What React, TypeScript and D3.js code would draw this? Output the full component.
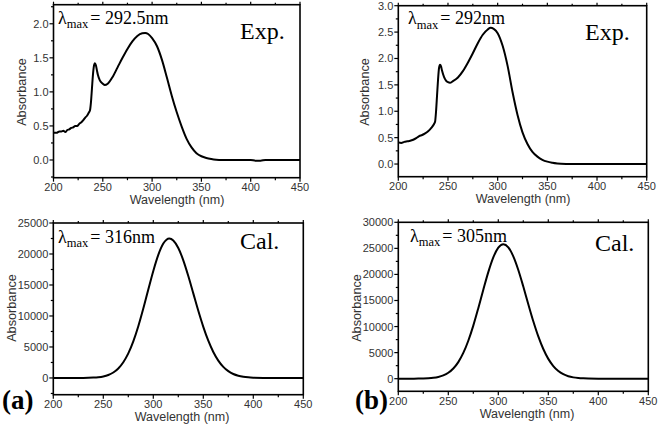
import React from "react";
import * as d3 from "d3";

// ---------- DATA ----------
const expA_x = [200, 203, 206, 208, 210, 212, 214, 216, 218, 220, 222, 224, 226, 228, 230, 232, 234, 236, 237, 238, 239, 240, 241, 242, 243, 244, 245, 247, 250, 252, 255, 260, 265, 270, 275, 280, 285, 290, 293, 296, 300, 305, 310, 315, 320, 325, 330, 335, 340, 345, 350, 355, 360, 365, 370, 400, 405, 410, 415, 450];
const expA_y = [0.40, 0.40, 0.42, 0.42, 0.43, 0.41, 0.44, 0.45, 0.47, 0.48, 0.50, 0.50, 0.53, 0.55, 0.58, 0.62, 0.65, 0.70, 0.73, 0.85, 1.05, 1.25, 1.38, 1.42, 1.39, 1.32, 1.25, 1.17, 1.12, 1.10, 1.12, 1.22, 1.36, 1.50, 1.63, 1.74, 1.82, 1.86, 1.865, 1.85, 1.79, 1.67, 1.47, 1.21, 0.94, 0.70, 0.49, 0.31, 0.185, 0.10, 0.055, 0.03, 0.015, 0.005, 0.0, 0.0, -0.01, -0.01, 0.0, 0.0];

const expB_x = [200, 203, 206, 209, 212, 215, 218, 221, 224, 227, 230, 233, 236, 237, 238, 239, 240, 241, 242, 243, 244, 246, 248, 250, 252, 255, 260, 265, 270, 275, 280, 285, 290, 293, 296, 300, 305, 310, 315, 320, 325, 330, 335, 340, 345, 350, 355, 360, 370, 375, 450];
const expB_y = [0.41, 0.40, 0.42, 0.43, 0.44, 0.46, 0.49, 0.53, 0.55, 0.58, 0.62, 0.68, 0.76, 0.80, 1.00, 1.30, 1.60, 1.82, 1.88, 1.85, 1.77, 1.65, 1.58, 1.55, 1.54, 1.57, 1.64, 1.76, 1.92, 2.10, 2.29, 2.45, 2.55, 2.58, 2.56, 2.48, 2.24, 1.86, 1.36, 0.93, 0.60, 0.38, 0.23, 0.14, 0.08, 0.045, 0.025, 0.012, 0.002, 0.0, 0.0];

const calA_x = [200, 220, 230, 235, 240, 245, 250, 255, 260, 265, 270, 275, 280, 285, 290, 295, 300, 305, 310, 316, 320, 325, 330, 335, 340, 345, 350, 355, 360, 365, 370, 375, 380, 385, 390, 395, 400, 410, 420, 450];
const calA_y = [0, 1, 11, 26, 58, 123, 250, 481, 880, 1530, 2530, 3960, 5900, 8340, 11190, 14270, 17270, 19860, 21680, 22500, 22190, 20970, 18980, 16450, 13650, 10840, 8250, 6010, 4190, 2800, 1790, 1096, 643, 361, 194, 100, 49, 11, 2, 0];

const calB_x = [200, 210, 220, 225, 230, 235, 240, 245, 250, 255, 260, 265, 270, 275, 280, 285, 290, 295, 300, 305, 310, 315, 320, 325, 330, 335, 340, 345, 350, 355, 360, 365, 370, 375, 380, 385, 390, 400, 410, 450];
const calB_y = [0, 2, 15, 35, 77, 163, 328, 626, 1133, 1950, 3180, 4940, 7280, 10180, 13530, 17070, 20450, 23270, 25140, 25800, 25200, 23470, 20860, 17680, 14290, 11020, 8110, 5690, 3800, 2430, 1480, 859, 476, 251, 127, 61, 28, 5, 0, 0];

const xTicks = [200, 250, 300, 350, 400, 450];
const yTicksExpA = [0.0, 0.5, 1.0, 1.5, 2.0];
const yTicksExpB = [0.0, 0.5, 1.0, 1.5, 2.0, 2.5, 3.0];
const yTicksCalA = [0, 5000, 10000, 15000, 20000, 25000];
const yTicksCalB = [0, 5000, 10000, 15000, 20000, 25000, 30000];

const lambdaA_exp = "292.5nm";
const lambdaB_exp = "292nm";
const lambdaA_cal = "316nm";
const lambdaB_cal = "305nm";

// ---------- LAYOUT ----------
const panels = [
  { xs: expA_x, ys: expA_y, yTicks: yTicksExpA, yDom: [-0.26, 2.28], minorY: 0.25, fmt: (v: number) => v.toFixed(1),
    box: [53.5, 4.7, 300, 177.7], lam: lambdaA_exp, lamPos: [58, 23.5], tag: "Exp.", tagPos: [240, 39],
    xTitleX: 177, yTitle: [22, 92] },
  { xs: expB_x, ys: expB_y, yTicks: yTicksExpB, yDom: [-0.24, 3.0], minorY: 0.25, fmt: (v: number) => v.toFixed(1),
    box: [398.3, 5.7, 646.7, 176.7], lam: lambdaB_exp, lamPos: [408, 24], tag: "Exp.", tagPos: [585, 40],
    xTitleX: 523, yTitle: [365, 92] },
  { xs: calA_x, ys: calA_y, yTicks: yTicksCalA, yDom: [-2700, 25000], minorY: 2500, fmt: (v: number) => String(v),
    box: [53.3, 223, 303.3, 394.7], lam: lambdaA_cal, lamPos: [58, 242.5], tag: "Cal.", tagPos: [240, 249],
    xTitleX: 182, yTitle: [12, 308] },
  { xs: calB_x, ys: calB_y, yTicks: yTicksCalB, yDom: [-2420, 30000], minorY: 2500, fmt: (v: number) => String(v),
    box: [398.3, 222.3, 648.3, 391.3], lam: lambdaB_cal, lamPos: [410, 241.5], tag: "Cal.", tagPos: [595, 251],
    xTitleX: 527, yTitle: [357, 308] },
];

const SANS = "'Liberation Sans', Arial, sans-serif";
const SERIF = "'Liberation Serif', 'Times New Roman', serif";

function Panel({ p }: { p: (typeof panels)[number] }) {
  const [x0, y0, x1, y1] = p.box;
  const x = d3.scaleLinear().domain([200, 450]).range([x0, x1]);
  const y = d3.scaleLinear().domain(p.yDom).range([y1, y0]);
  const pts = p.xs.map((v, i) => [v, p.ys[i]] as [number, number]);
  const line = d3.line<[number, number]>().x((d) => x(d[0])).y((d) => y(d[1])).curve(d3.curveMonotoneX);
  const minorX = d3.range(200, 451, 25);
  const minorYs = d3.range(0, p.yDom[1] + 1e-9, p.minorY).concat(d3.range(-p.minorY, p.yDom[0] - 1e-9, -p.minorY)).filter((v) => v >= p.yDom[0] && v <= p.yDom[1]);
  const labelColor = "#333";
  return (
    <g>
      <path d={line(pts) || ""} fill="none" stroke="#000" strokeWidth={2} strokeLinejoin="round" />
      <rect x={x0} y={y0} width={x1 - x0} height={y1 - y0} fill="none" stroke="#000" strokeWidth={1.6} />
      {minorX.map((v) => (
        <line key={"bx" + v} x1={x(v)} x2={x(v)} y1={y1} y2={y1 + (v % 50 === 0 ? 4 : 2.5)} stroke="#000" strokeWidth={1.2} />
      ))}
      {minorX.map((v) => (
        <line key={"tx" + v} x1={x(v)} x2={x(v)} y1={y0} y2={y0 - (v % 50 === 0 ? 3 : 2)} stroke="#000" strokeWidth={1.2} />
      ))}
      {xTicks.map((v) => (
        <text key={"xl" + v} x={x(v)} y={y1 + 13.5} textAnchor="middle" fontFamily={SANS} fontSize={11} fill={labelColor}>{v}</text>
      ))}
      {minorYs.map((v) => {
        const major = p.yTicks.some((t) => Math.abs(t - v) < 1e-6);
        return <line key={"yl" + v} x1={x0} x2={x0 - (major ? 4 : 2.5)} y1={y(v)} y2={y(v)} stroke="#000" strokeWidth={1.2} />;
      })}
      {p.yTicks.map((v) => (
        <text key={"yt" + v} x={x0 - 5} y={y(v) + 4} textAnchor="end" fontFamily={SANS} fontSize={11} fill={labelColor}>{p.fmt(v)}</text>
      ))}
      <text x={p.xTitleX} y={y1 + 26.5} textAnchor="middle" fontFamily={SANS} fontSize={12.5} fill={labelColor}>Wavelength (nm)</text>
      <text transform={`translate(${p.yTitle[0] + 4},${p.yTitle[1]}) rotate(-90)`} textAnchor="middle" fontFamily={SANS} fontSize={12.7} fill={labelColor}>Absorbance</text>
      <text x={p.lamPos[0]} y={p.lamPos[1]} fontFamily={SERIF} fontSize={18} fill="#000">
        λ<tspan fontSize={12.5} dy={4.5}>max</tspan><tspan dy={-4.5} dx={2}>= {p.lam}</tspan>
      </text>
      <text x={p.tagPos[0]} y={p.tagPos[1]} fontFamily={SERIF} fontSize={24} fill="#000">{p.tag}</text>
    </g>
  );
}

export default function App() {
  return (
    <svg width={660} height={426} style={{ position: "absolute", left: 0, top: 0, background: "#fff" }}>
      <rect width={660} height={426} fill="#fff" />
      {panels.map((p, i) => <Panel key={i} p={p} />)}
      <text x={2} y={409} fontFamily={SERIF} fontSize={27} fontWeight="bold" fill="#000">(a)</text>
      <text x={355} y={409} fontFamily={SERIF} fontSize={27} fontWeight="bold" fill="#000">(b)</text>
    </svg>
  );
}
